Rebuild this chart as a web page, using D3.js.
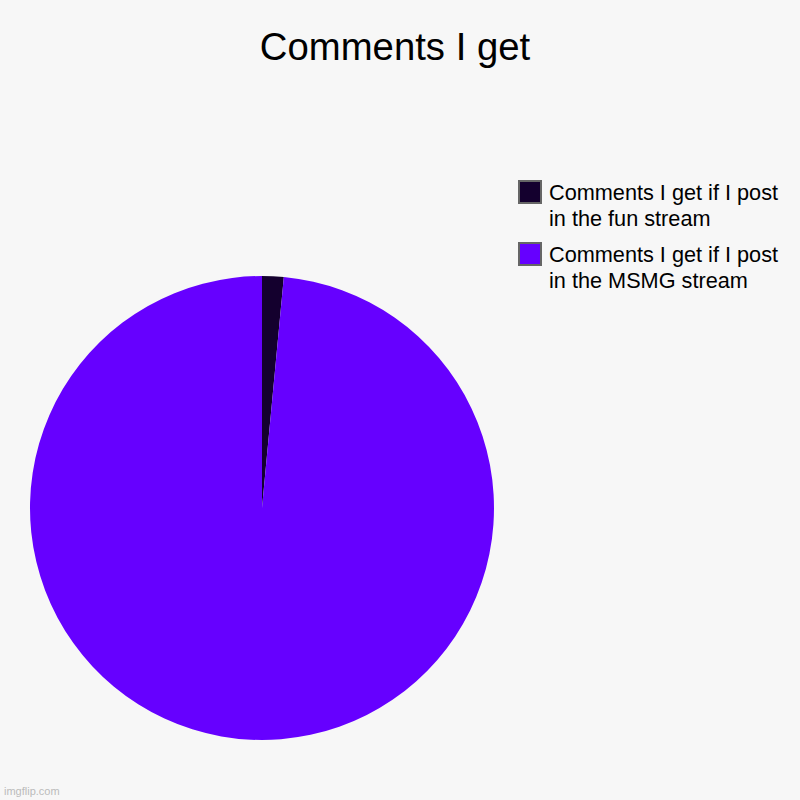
<!DOCTYPE html>
<html><head><meta charset="utf-8">
<script src="https://cdn.jsdelivr.net/npm/d3@7"></script>
<style>body{margin:0;background:#f7f7f7}svg{display:block}</style>
</head><body>
<script>
const title = "Comments I get";
const categories = ["Comments I get if I post in the fun stream", "Comments I get if I post in the MSMG stream"];
const legendLines = [["Comments I get if I post", "in the fun stream"], ["Comments I get if I post", "in the MSMG stream"]];
const values = [1.5, 98.5];
const colors = ["#14002e", "#6600ff"];

const W = 800, H = 800;
const svg = d3.select("body").append("svg").attr("width", W).attr("height", H)
  .style("font-family", "'Liberation Sans', Arial, sans-serif");
svg.append("rect").attr("width", W).attr("height", H).attr("fill", "#f7f7f7");

svg.append("text").attr("x", 395).attr("y", 60).attr("text-anchor", "middle")
  .attr("font-size", 38.3).attr("fill", "#000").text(title);

const cx = 262, cy = 508, r = 232;
const pie = d3.pie().sort(null).value(d => d);
const arc = d3.arc().innerRadius(0).outerRadius(r);
const g = svg.append("g").attr("transform", `translate(${cx},${cy})`);
g.selectAll("path").data(pie(values)).enter().append("path")
  .attr("d", arc).attr("fill", (d, i) => colors[i]);

const lg = svg.append("g");
categories.forEach((c, i) => {
  const y0 = 180 + i * 62;
  lg.append("rect").attr("x", 519).attr("y", y0 + 1).attr("width", 22).attr("height", 22)
    .attr("fill", colors[i]).attr("stroke", "#666").attr("stroke-width", 2);
  legendLines[i].forEach((t, j) => {
    lg.append("text").attr("x", 549).attr("y", y0 + 20 + j * 26)
      .attr("font-size", 21.7).attr("fill", "#000").text(t);
  });
});

svg.append("text").attr("x", 4).attr("y", 795).attr("font-size", 11)
  .attr("fill", "#bbb").text("imgflip.com");
</script>
</body></html>
